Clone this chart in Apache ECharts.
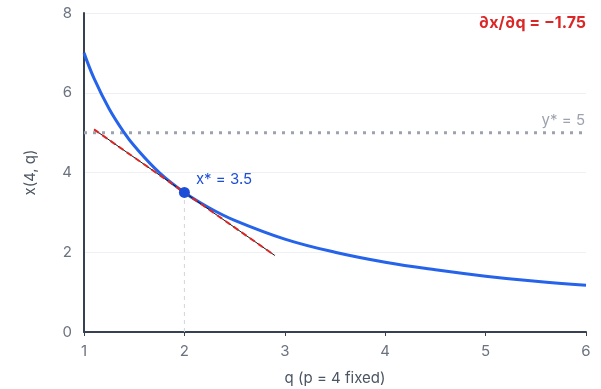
<!DOCTYPE html>
<html>
<head>
<meta charset="utf-8">
<script src="https://cdn.jsdelivr.net/npm/echarts@6/dist/echarts.min.js"></script>
<style>
  html, body { margin: 0; padding: 0; background: #fff; }
  #chart { width: 601px; height: 389px; }
</style>
</head>
<body>
<div id="chart"></div>
<script>
// values
var qValues = [1, 1.1, 1.25, 1.4, 1.5, 1.75, 2, 2.25, 2.5, 3, 3.5, 4, 4.5, 5, 5.5, 6];
var xValues = [7, 6.36, 5.6, 5, 4.67, 4, 3.5, 3.11, 2.8, 2.33, 2, 1.75, 1.56, 1.4, 1.27, 1.17];
var tangentQ = [1.1, 2.9];
var tangentX = [5.08, 1.92];
var optimum = [2, 3.5];
var targetY = 5;
var slopeText = '∂x/∂q = −1.75';

var font = 'Inter, "Noto Sans", sans-serif';
var curve = qValues.map(function (q, i) { return [q, xValues[i]]; });
var tangent = tangentQ.map(function (q, i) { return [q, tangentX[i]]; });

var chart = echarts.init(document.getElementById('chart'));
chart.setOption({
    animation: false,
    backgroundColor: '#fff',
    textStyle: { fontFamily: font },
    grid: { left: 84, right: 15, top: 13, bottom: 57, outerBoundsMode: 'none', containLabel: false },
    xAxis: {
        type: 'value',
        min: 1, max: 6, interval: 1,
        name: 'q (p = 4 fixed)',
        nameLocation: 'middle',
        nameGap: 39,
        nameTextStyle: { color: '#4b5563', fontSize: 15, fontFamily: font },
        axisLine: { lineStyle: { color: '#374151', width: 2 } },
        axisTick: { show: true, length: 4, lineStyle: { color: '#374151' } },
        axisLabel: { color: '#6b7280', fontSize: 15, margin: 12, fontFamily: font },
        splitLine: { show: false }
    },
    yAxis: {
        type: 'value',
        min: 0, max: 8, interval: 2,
        name: 'x(4, q)',
        nameLocation: 'middle',
        nameGap: 46,
        nameTextStyle: { color: '#4b5563', fontSize: 15, fontFamily: font },
        axisLine: { show: true, lineStyle: { color: '#374151', width: 2 } },
        axisTick: { show: false },
        axisLabel: { color: '#6b7280', fontSize: 15, margin: 12, fontFamily: font },
        splitLine: { show: true, lineStyle: { color: '#eef0f3', width: 1 } }
    },
    series: [
        {
            type: 'line',
            data: [[optimum[0], 0], optimum],
            symbol: 'none',
            lineStyle: { color: '#d1d5db', width: 1, type: [4, 4] },
            z: 1
        },
        {
            type: 'line',
            data: [[1, targetY], [6, targetY]],
            symbol: 'none',
            lineStyle: { color: '#9ca3af', width: 3, type: [3, 6] },
            z: 2,
            markPoint: {
                symbol: 'circle', symbolSize: 0,
                data: [{ coord: [6, targetY], value: 'y* = 5' }],
                label: {
                    show: true, position: 'left', offset: [4, -12],
                    formatter: 'y* = 5',
                    color: '#9ca3af', fontSize: 15, fontFamily: font
                }
            }
        },
        {
            type: 'line',
            data: curve,
            smooth: 0.4,
            symbol: 'none',
            lineStyle: { color: '#2563eb', width: 3 },
            z: 3
        },
        {
            type: 'line',
            data: tangent,
            symbol: 'none',
            lineStyle: { color: '#111', width: 1 },
            z: 4
        },
        {
            type: 'line',
            data: tangent,
            symbol: 'none',
            lineStyle: { color: '#dc2626', width: 2, type: [6, 4] },
            z: 5
        },
        {
            type: 'scatter',
            data: [optimum],
            symbolSize: 11,
            itemStyle: { color: '#1d4ed8', opacity: 1 },
            label: {
                show: true, position: 'right', offset: [1, -13],
                formatter: 'x* = 3.5',
                color: '#1d4ed8', fontSize: 15, fontFamily: font
            },
            z: 6
        }
    ],
    graphic: [
        {
            type: 'text',
            right: 15, top: 15,
            style: {
                text: slopeText,
                fill: '#dc2626',
                font: 'bold 16px ' + font,
                textAlign: 'right'
            }
        }
    ]
});
</script>
</body>
</html>
